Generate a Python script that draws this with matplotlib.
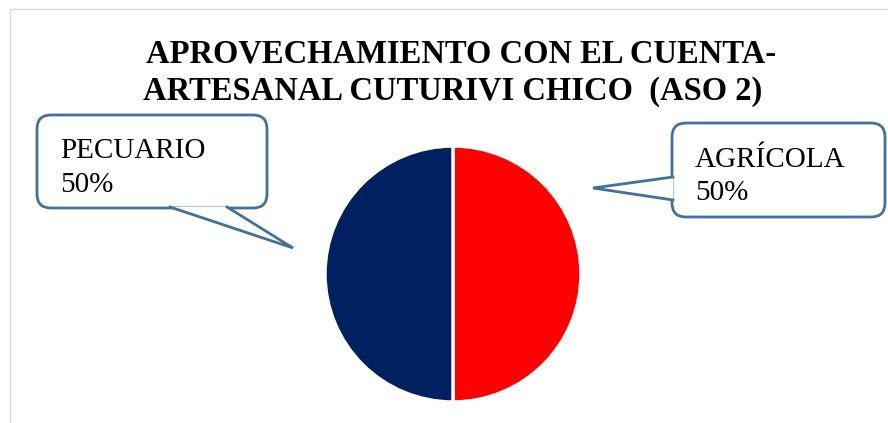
import matplotlib.pyplot as plt
from matplotlib.patches import FancyBboxPatch, Polygon, Rectangle

# data
labels = ['AGRÍCOLA', 'PECUARIO']
values = [50, 50]
colors = ['#ff0000', '#002060']
title_lines = ['APROVECHAMIENTO CON EL CUENTA-', 'ARTESANAL CUTURIVI CHICO  (ASO 2)']

W, H = 888, 423
fig = plt.figure(figsize=(W / 100, H / 100), dpi=100)
ax = fig.add_axes([0, 0, 1, 1])

def py(y):
    # pixel row -> data y
    return H - y

# chart frame
ax.add_patch(Rectangle((10, py(440)), 900, 431, facecolor='white',
                       edgecolor='#d9d9d9', linewidth=1, zorder=0))

# pie
wedges, _ = ax.pie(values, colors=colors, startangle=90, counterclock=False,
                   center=(453, py(274)), radius=128, frame=True,
                   wedgeprops=dict(edgecolor='white', linewidth=2.5))
ax.set_xlim(0, W)
ax.set_ylim(0, H)
ax.set_aspect('auto')
ax.axis('off')

# title
ax.text(461, py(62), title_lines[0], ha='center', va='baseline',
        fontsize=23.5, fontweight='bold', family='Liberation Serif')
ax.text(453, py(100), title_lines[1], ha='center', va='baseline',
        fontsize=23.5, fontweight='bold', family='Liberation Serif')

edge = '#41719c'

def callout(x0, y0, x1, y1, base, tip):
    box = FancyBboxPatch((x0, py(y1)), x1 - x0, y1 - y0,
                         boxstyle='round,pad=0,rounding_size=14',
                         facecolor='white', edgecolor=edge, linewidth=2, zorder=3)
    ax.add_patch(box)
    (bx0, by0), (bx1, by1) = base
    ax.add_patch(Polygon([(bx0, py(by0)), (tip[0], py(tip[1])), (bx1, py(by1))],
                         closed=True, facecolor='white', edgecolor='none', zorder=4))
    ax.plot([bx0, tip[0], bx1], [py(by0), py(tip[1]), py(by1)],
            color=edge, linewidth=2, zorder=5, solid_joinstyle='miter')

# PECUARIO callout
callout(37, 115, 267, 208, [(170, 207), (227, 207)], (293, 248))
ax.text(60, py(158), labels[1], fontsize=21, family='Liberation Serif',
        va='baseline', zorder=6)
ax.text(60, py(192), f'{values[1]}%', fontsize=21, family='Liberation Serif',
        va='baseline', zorder=6)

# AGRÍCOLA callout
callout(672, 123, 885, 217, [(673, 177), (673, 200)], (593, 188))
ax.text(695, py(167), labels[0], fontsize=21, family='Liberation Serif',
        va='baseline', zorder=6)
ax.text(695, py(200), f'{values[0]}%', fontsize=21, family='Liberation Serif',
        va='baseline', zorder=6)

fig.savefig('out.png', dpi=100)
